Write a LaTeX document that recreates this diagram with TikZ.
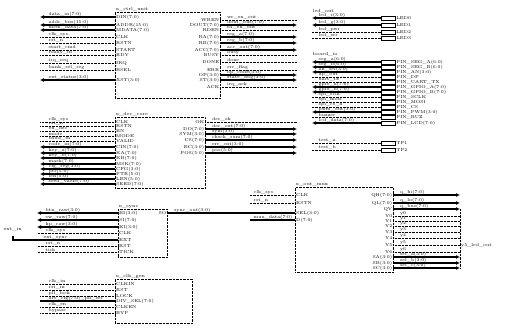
\documentclass[tikz,border=0pt]{standalone}
\usepackage{tikz}
\usetikzlibrary{positioning, arrows.meta, calc}
\tikzset{
	>={Latex[length=4pt, width=4pt]},
	% blocco del componente
	blocco/.style={draw, densely dotted, thin, rectangle, anchor=north west, inner sep=0pt},
	% filo singolo
	filo/.style={densely dotted, thin},
	% linea spessa senza freccia
	linea/.style={line width=1.2pt},
	% bus (più bit)
	bus/.style={->, linea},
	% nome di segnale sopra il filo
	nome/.style={font=\fontsize{4.3}{4.5}\selectfont, inner sep=0.5pt, anchor=south west},
	% nome del pin dentro il blocco
	pin/.style={font=\fontsize{4.3}{4.5}\selectfont, inner sep=1pt},
	% titolo del blocco
	titolo/.style={font=\fontsize{4.5}{5}\selectfont, inner sep=0.5pt, anchor=south west},
	% buffer d'uscita
	buf/.style={draw, thin, rectangle, minimum width=14pt, minimum height=3.5pt, inner sep=0pt},
}

\begin{document}
\begin{tikzpicture}[x=1pt, y=-1pt]
  \useasboundingbox (0,0) rectangle (529,336);
  % blocchi
  \node[blocco, minimum width=105pt, minimum height=86pt] (b1) at (115,12) {};
  \node[blocco, minimum width=90pt, minimum height=71pt] (b2) at (115,117) {};
  \node[blocco, minimum width=49pt, minimum height=48pt] (b3) at (118,209) {};
  \node[blocco, minimum width=98pt, minimum height=85pt] (b4) at (295,187) {};
  \node[blocco, minimum width=77pt, minimum height=44pt] (b5) at (115,279) {};
  \node[titolo] at (b1.north west) {u\_ctrl\_unit};
  \node[titolo] at (b2.north west) {u\_dec\_core};
  \node[titolo] at (b3.north west) {u\_sync};
  \node[titolo] at (b4.north west) {u\_out\_mux};
  \node[titolo] at (b5.north west) {u\_clk\_gen};

  % blocco 1: ingressi
  \foreach \y/\s/\t/\p [count=\i] in {17/bus/data\_in(7:0)/DIN(7:0), 25/bus/addr\_bus(15:0)/ADDR(15:0),
      30/bus/mem\_data(7:0)/MDATA(7:0), 37/filo/clk\_sys/CLK, 43/filo/rst\_n/RSTN, 50/filo/start\_cmd/START,
      55/filo/ready\_in/RDY, 63/filo/irq\_req/IRQ, 70/filo/bank\_sel\_reg/BSEL, 80/bus/ext\_status(3:0)/XST(3:0)} {
    \coordinate (ia\i) at (40,\y);
    \draw[\s] (ia\i -| b1.west) -- (ia\i);
    \node[nome] at ($(ia\i)+(8,0)$) {\t};
    \node[pin, anchor=west] at (ia\i -| b1.west) {\p};
  }
  % blocco 1: uscite
  \foreach \y/\s/\t/\p [count=\i] in {20/filo/wr\_en\_out/WREN, 25/bus/dout\_bus(7:0)/DOUT(7:0),
      30/filo/rd\_en\_out/RDEN, 37/bus/reg\_a(7:0)/RA(7:0), 43/bus/reg\_b(7:0)/RB(7:0), 50/bus/acc\_out(7:0)/ACC(7:0),
      55/filo/busy/BUSY, 62/filo/done/DONE, 70/filo/err\_flag/ERR, 75/bus/op\_code(3:0)/OP(3:0),
      80/bus/state\_dbg(3:0)/ST(3:0), 87/filo/irq\_ack/ACK} {
    \coordinate (oa\i) at (297,\y);
    \draw[\s] (oa\i -| b1.east) -- (oa\i);
    \node[nome] at ($(oa\i -| b1.east)+(6,0)$) {\t};
    \node[pin, anchor=east] at (oa\i -| b1.east) {\p};
  }

  % gruppo A: buffer d'uscita
  \node[titolo] at (312,14) {led\_out};
  \foreach \y/\s/\t/\p [count=\i] in {18/bus/led\_r(3:0)/LED0, 25/bus/led\_g(3:0)/LED1,
      32/filo/led\_pwr/LED2, 38/filo/led\_err/LED3} {
    \node[buf] (ga\i) at (388,\y) {};
    \coordinate (sa\i) at (312,\y);
    \draw[\s] (ga\i.west) -- (sa\i);
    \node[nome] at ($(sa\i)+(6,0)$) {\t};
    \node[pin, anchor=west] at (ga\i.east) {\p};
  }
  % gruppo B: pin della scheda
  \node[titolo] at (312,57) {board\_io};
  \foreach \y/\s/\t/\p [count=\i] in {62/bus/seg\_a(6:0)/PIN\_SEG\_A(6:0), 67/bus/seg\_b(6:0)/PIN\_SEG\_B(6:0),
      72/bus/an\_sel(3:0)/PIN\_AN(3:0), 77/filo/dp\_out/PIN\_DP, 82/filo/uart\_tx/PIN\_UART\_TX,
      87/bus/gpio\_a(7:0)/PIN\_GPIO\_A(7:0), 92/bus/gpio\_b(7:0)/PIN\_GPIO\_B(7:0), 97/filo/spi\_sclk/PIN\_SCLK,
      102/filo/spi\_mosi/PIN\_MOSI, 107/filo/spi\_cs\_n/PIN\_CS, 112/bus/pwm\_out(3:0)/PIN\_PWM(3:0),
      117/filo/buzzer/PIN\_BUZ, 123/bus/lcd\_data(7:0)/PIN\_LCD(7:0)} {
    \node[buf] (gb\i) at (388,\y) {};
    \coordinate (sb\i) at (312,\y);
    \draw[\s] (gb\i.west) -- (sb\i);
    \node[nome] at ($(sb\i)+(6,0)$) {\t};
    \node[pin, anchor=west] at (gb\i.east) {\p};
  }
  % gruppo C
  \foreach \y/\s/\t/\p [count=\i] in {143/filo/test\_a/TP1, 150/filo/test\_b/TP2} {
    \node[buf] (gc\i) at (388,\y) {};
    \coordinate (sc\i) at (312,\y);
    \draw[\s] (gc\i.west) -- (sc\i);
    \node[nome] at ($(sc\i)+(6,0)$) {\t};
    \node[pin, anchor=west] at (gc\i.east) {\p};
  }

  % blocco 2: ingressi
  \foreach \y/\s/\t/\p [count=\i] in {122/filo/clk\_sys/CLK, 126/filo/rst\_n/RSTN, 131/filo/en\_dec/EN,
      136/filo/mode/MODE, 141/filo/valid\_in/VALID, 147/bus/code\_in(7:0)/CIN(7:0), 153/bus/key\_a(7:0)/KA(7:0),
      158/bus/key\_b(7:0)/KB(7:0), 164/bus/mask(7:0)/MSK(7:0), 169/bus/cfg\_reg(3:0)/CFG(3:0),
      174/bus/ptr(5:0)/PTR(5:0), 179/bus/len(5:0)/LEN(5:0), 184/bus/seed\_value(7:0)/SEED(7:0)} {
    \coordinate (ib\i) at (40,\y);
    \draw[\s] (ib\i -| b2.west) -- (ib\i);
    \node[nome] at ($(ib\i)+(8,0)$) {\t};
    \node[pin, anchor=west] at (ib\i -| b2.west) {\p};
  }
  % blocco 2: uscite
  \foreach \y/\s/\t/\p [count=\i] in {122/filo/dec\_ok/OK, 129/bus/dec\_out(7:0)/DO(7:0),
      134/bus/sym(3:0)/SYM(3:0), 140/bus/check\_sum(7:0)/CS(7:0), 147/bus/err\_cnt(3:0)/EC(3:0),
      153/bus/pos(5:0)/POS(5:0)} {
    \coordinate (ob\i) at (297,\y);
    \draw[\s] (ob\i -| b2.east) -- (ob\i);
    \node[nome] at ($(ob\i -| b2.east)+(6,0)$) {\t};
    \node[pin, anchor=east] at (ob\i -| b2.east) {\p};
  }

  % blocco 3: ingressi
  \foreach \y/\s/\t/\p [count=\i] in {213/bus/btn\_raw(3:0)/BI(3:0), 220/bus/sw\_raw(7:0)/SI(7:0),
      227/bus/kp\_raw(3:0)/KI(3:0), 233/filo/clk\_sys/CLK, 246/filo/rst\_n/RST, 252/filo/tick/TICK} {
    \coordinate (ic\i) at (37,\y);
    \draw[\s] (ic\i -| b3.west) -- (ic\i);
    \node[nome] at ($(ic\i)+(8,0)$) {\t};
    \node[pin, anchor=west] at (ic\i -| b3.west) {\p};
  }
  \node[titolo] (ext) at (3,232) {ext\_in};
  \coordinate (ec) at (13,236);
  \coordinate (er) at (13,240);
  \draw[linea] (ec) -- (er) -- (er -| b3.west);
  \node[nome] at ($(er)+(30,0)$) {ext\_sync};
  \node[pin, anchor=west] at (er -| b3.west) {EXT};
  % blocco 3 verso blocco 4
  \coordinate (ct) at (b3.east |- ic1);
  \draw[linea] (ct) -- (ct -| b4.west);
  \node[pin, anchor=east] at (ct) {SO};
  \node[nome] at ($(ct)+(6,0)$) {sync\_out(3:0)};
  \node[pin, anchor=west] at (ct -| b4.west) {SEL(3:0)};

  % blocco 4: ingressi
  \foreach \y/\s/\t/\p [count=\i] in {195/filo/clk\_sys/CLK, 203/filo/rst\_n/RSTN, 220/linea/mux\_data(7:0)/D(7:0)} {
    \coordinate (id\i) at (250,\y);
    \draw[\s] (id\i -| b4.west) -- (id\i);
    \node[nome] at ($(id\i)+(3,0)$) {\t};
    \node[pin, anchor=west] at (id\i -| b4.west) {\p};
  }
  % blocco 4: uscite
  \foreach \y/\s/\t/\p [count=\i] in {195/bus/q\_hi(7:0)/QH(7:0), 203/bus/q\_lo(7:0)/QL(7:0),
      209/bus/q\_bus(7:0)/QV, 216/filo/y0/Y0, 221/filo/y1/Y1, 226/filo/y2/Y2, 232/filo/y3/Y3,
      238/filo/y4/Y4, 245/filo/y5/Y5, 252/filo/y6/Y6, 257/bus/sel\_a(3:0)/SA(3:0),
      263/bus/sel\_b(3:0)/SB(3:0), 268/bus/sel\_c(3:0)/SC(3:0)} {
    \coordinate (od\i) at (460,\y);
    \draw[\s] (od\i -| b4.east) -- (od\i);
    \node[nome] at ($(od\i -| b4.east)+(6,0)$) {\t};
    \node[pin, anchor=east] at (od\i -| b4.east) {\p};
  }
  \draw[filo] (od3) -- (od13);
  \node[pin, anchor=west] at (od9) {y5\_led\_out};

  % blocco 5: ingressi
  \foreach \y/\s/\t/\p [count=\i] in {284/filo/clk\_in/CLKIN, 290/filo/rst\_in/RST,
      296/filo/pll\_lock/LOCK, 301/linea/div\_cfg(7:0)\_pll\_sel/DIV\_SEL(7:0), 307/filo/clk\_en/CLKEN,
      313/filo/bypass/BYP} {
    \coordinate (ie\i) at (40,\y);
    \draw[\s] (ie\i -| b5.west) -- (ie\i);
    \node[nome] at ($(ie\i)+(8,0)$) {\t};
    \node[pin, anchor=west] at (ie\i -| b5.west) {\p};
  }
\end{tikzpicture}
\end{document}
